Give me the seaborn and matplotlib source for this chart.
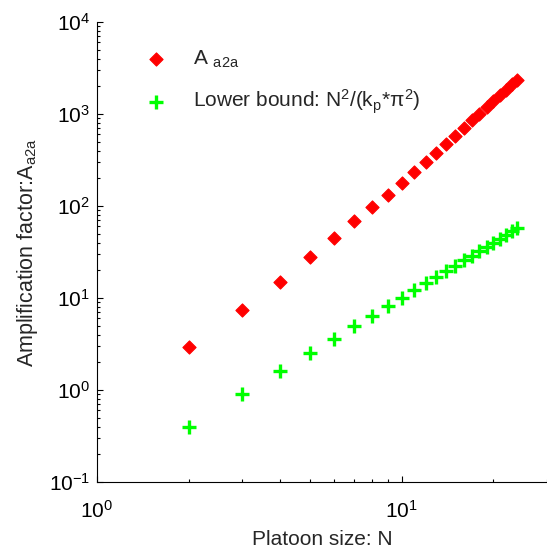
import matplotlib
matplotlib.use("Agg")
import matplotlib.pyplot as plt
import seaborn as sns
import pandas as pd
from matplotlib.ticker import LogLocator, NullFormatter

# Data
N = [2, 3, 4, 5, 6, 7, 8, 9, 10, 11, 12, 13, 14, 15, 16, 17, 18, 19, 20, 21, 22, 23, 24]
A_a2a = [2.93, 7.4, 14.9, 28, 45, 68, 97, 132, 178, 234, 302, 381, 475, 584, 708,
         853, 1008, 1189, 1385, 1600, 1839, 2097, 2340]
lower_bound = [0.4, 0.9, 1.6, 2.5, 3.6, 4.9, 6.4, 8.1, 10, 12.1, 14.4, 16.9, 19.6, 22.5,
               25.6, 28.9, 32.4, 36.1, 40, 44.1, 48.4, 52.9, 57.6]

df = pd.DataFrame({"N": N, "A": A_a2a, "LB": lower_bound})

sns.set_style("white")
plt.rcParams['font.family'] = ['Liberation Sans', 'DejaVu Sans']
plt.rcParams['mathtext.fontset'] = 'custom'
plt.rcParams['mathtext.rm'] = 'Liberation Sans'
plt.rcParams['mathtext.it'] = 'Liberation Sans'
plt.rcParams['mathtext.default'] = 'regular'
plt.rcParams['axes.unicode_minus'] = False

fig = plt.figure(figsize=(5.47, 5.52), dpi=100)
ax = fig.add_axes([0.177, 0.127, 0.823, 0.833])

sns.scatterplot(data=df, x="N", y="A", ax=ax, marker="D", s=45, color="#ff0000",
                edgecolor="#ff0000", linewidth=0.8, label=r"A $_{\rm a2a}$")
sns.scatterplot(data=df, x="N", y="LB", ax=ax, marker="+", s=100, color="#00ff00",
                linewidth=2.4, label=r"Lower bound: N$^2$/(k$_{\rm p}$*π$^2$)")

ax.set_xscale("log")
ax.set_yscale("log")
ax.set_xlim(1, 30)
ax.set_ylim(0.1, 1e4)

for s in ["top", "right"]:
    ax.spines[s].set_visible(False)
for s in ["left", "bottom"]:
    ax.spines[s].set_color("black")
    ax.spines[s].set_linewidth(0.8)

ax.xaxis.set_major_locator(LogLocator(base=10, numticks=10))
ax.yaxis.set_major_locator(LogLocator(base=10, numticks=10))
ax.xaxis.set_minor_locator(LogLocator(base=10, subs=range(2, 10), numticks=20))
ax.yaxis.set_minor_locator(LogLocator(base=10, subs=range(2, 10), numticks=20))
ax.xaxis.set_minor_formatter(NullFormatter())
ax.yaxis.set_minor_formatter(NullFormatter())
ax.tick_params(which="both", direction="in", colors="black", labelsize=15,
               bottom=True, left=True, top=False, right=False)
ax.tick_params(which="major", length=4, width=0.8)
ax.tick_params(which="minor", length=2.5, width=0.8)
ax.tick_params(axis="x", which="major", pad=13)
ax.tick_params(axis="y", which="major", pad=5)

ax.set_xlabel("Platoon size: N", fontsize=15, labelpad=6)
ax.set_ylabel(r"Amplification factor:A$_{\rm a2a}$", fontsize=15.5, labelpad=6)

leg = ax.legend(loc="upper left", bbox_to_anchor=(0.067, 0.96), frameon=False,
                fontsize=15, labelspacing=0.85, handletextpad=0.75, borderaxespad=0)

fig.savefig("out.png", dpi=100)
